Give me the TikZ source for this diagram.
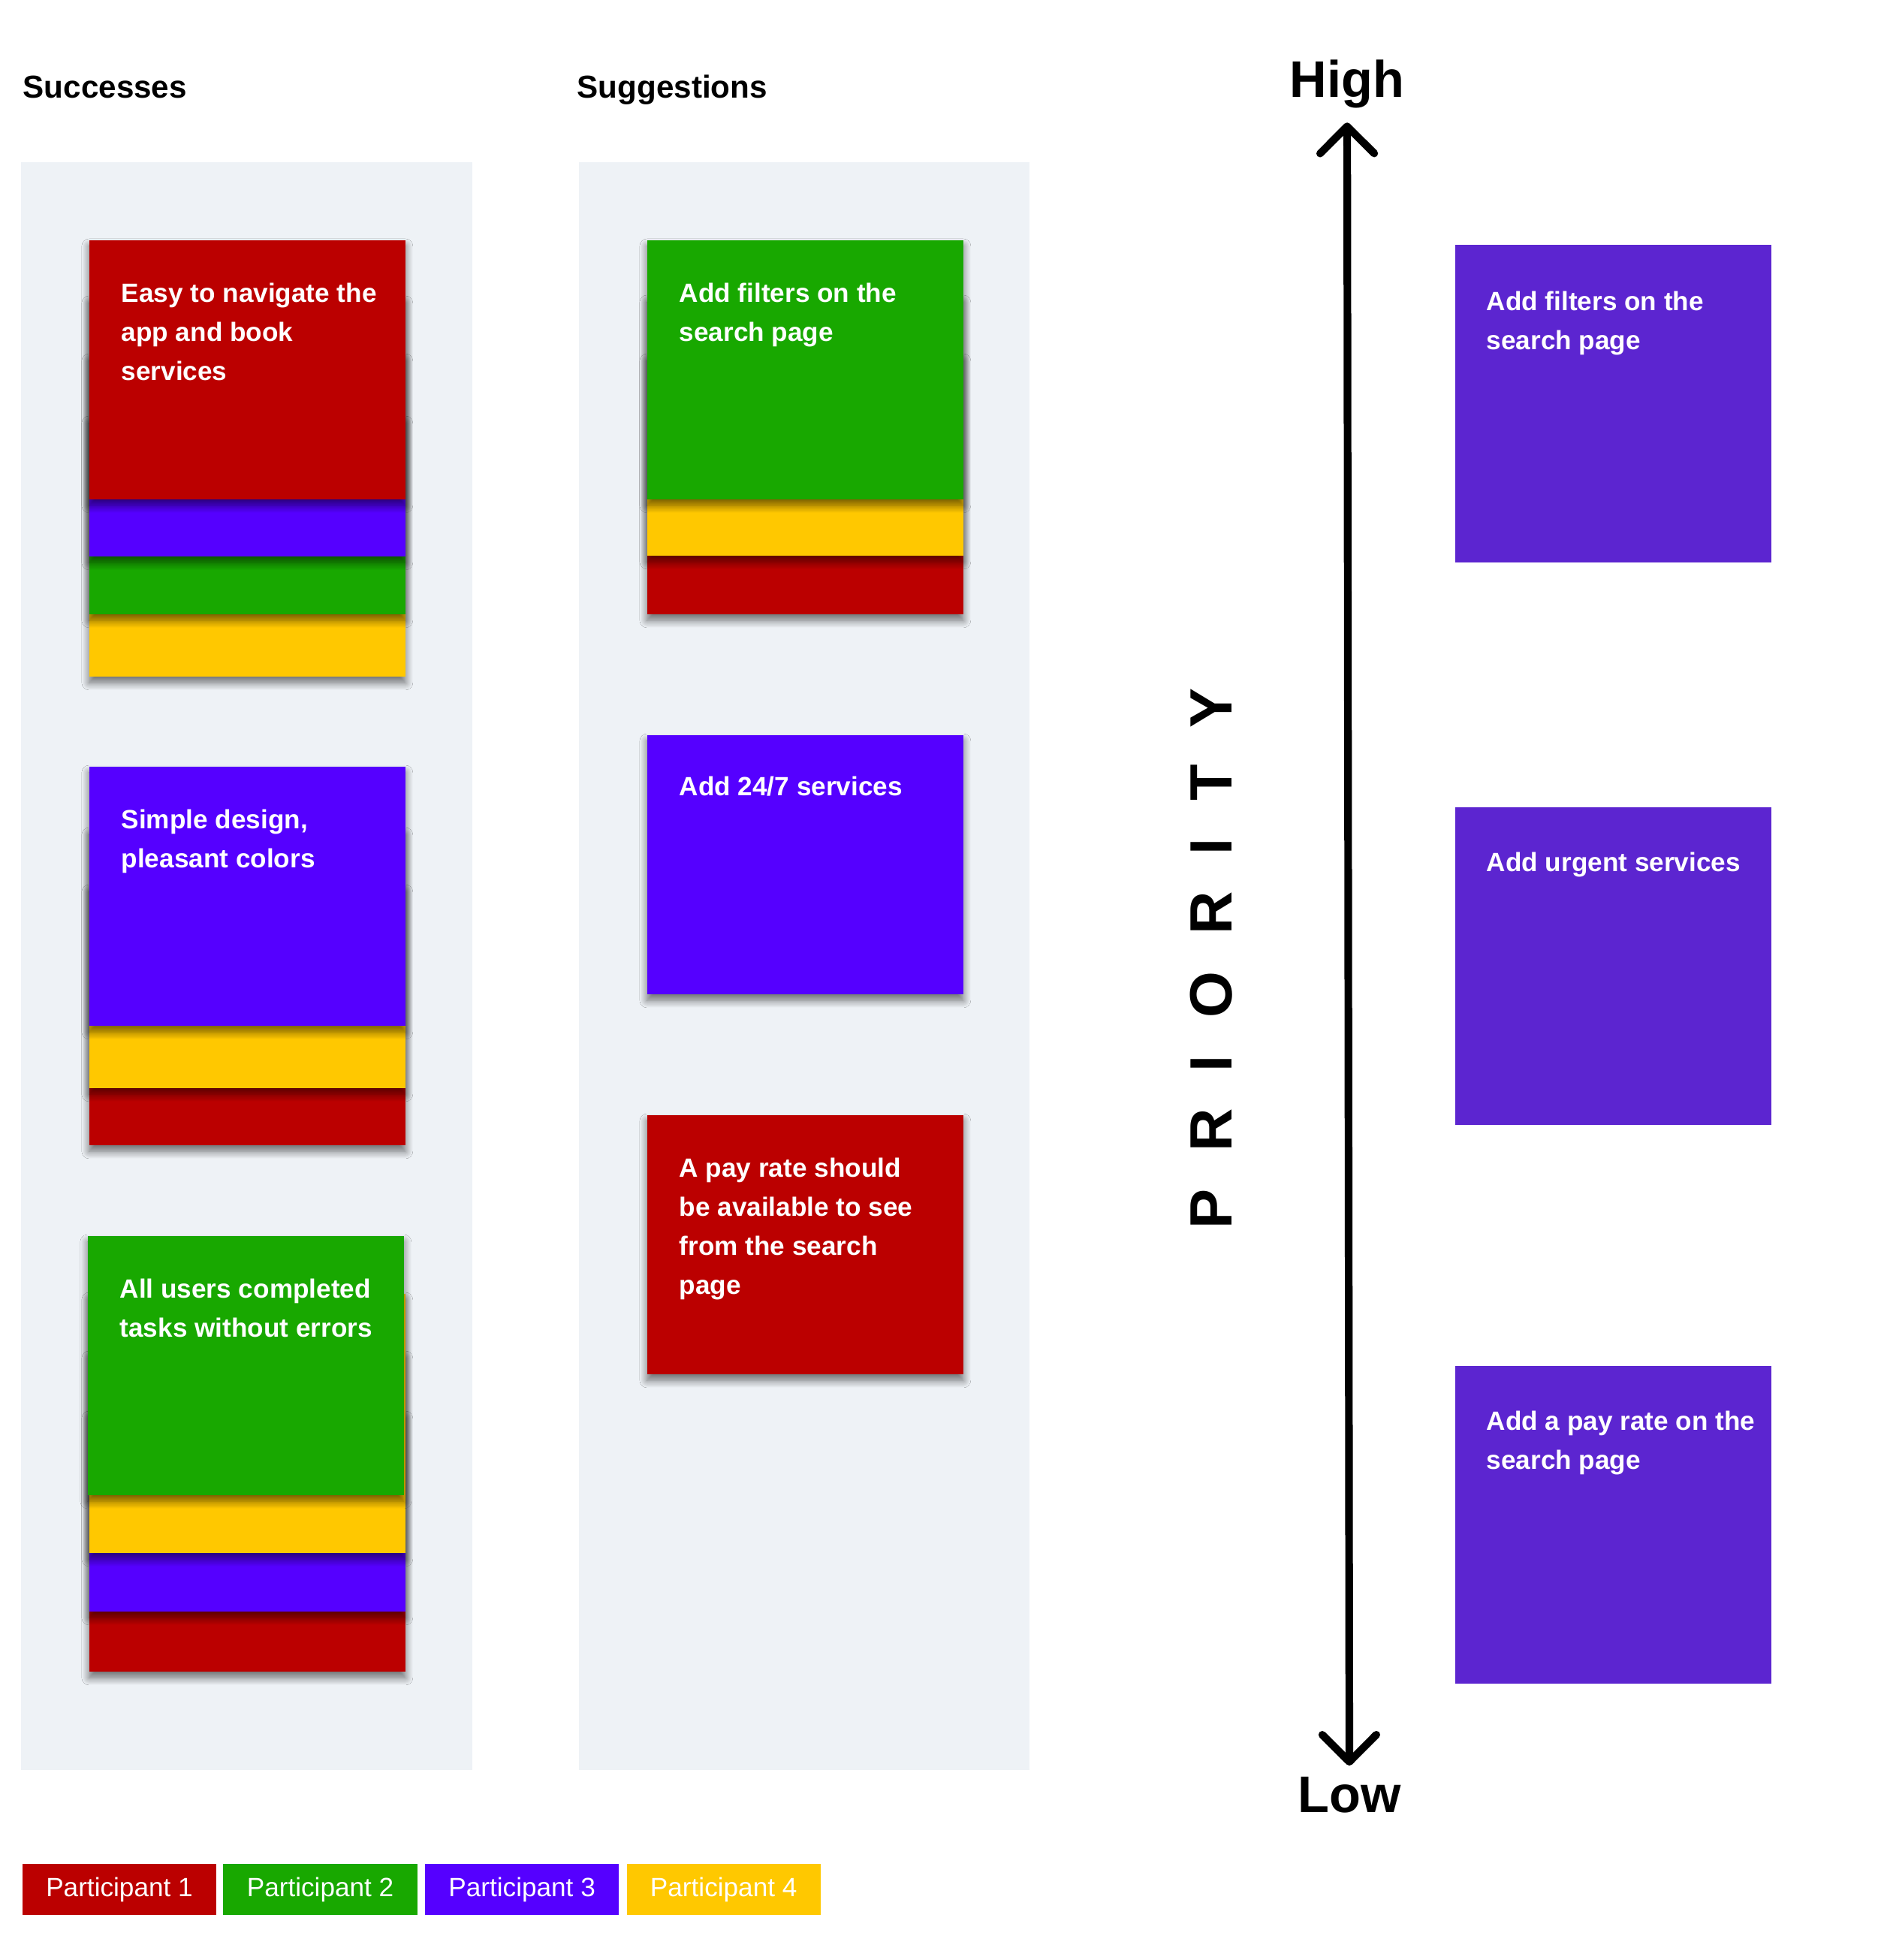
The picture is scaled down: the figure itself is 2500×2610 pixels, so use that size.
\documentclass[tikz,border=0pt]{standalone}
\usepackage{fontspec}
\setmainfont{Liberation Sans}
\usetikzlibrary{arrows.meta, positioning, shadows.blur}

\definecolor{pred}{RGB}{187,0,0}
\definecolor{pgreen}{RGB}{24,168,0}
\definecolor{pblue}{RGB}{85,0,255}
\definecolor{pyellow}{RGB}{255,200,0}
\definecolor{ppurple}{RGB}{92,37,208}
\definecolor{colbg}{RGB}{238,242,246}

\begin{document}
\begin{tikzpicture}[x=0.01cm, y=-0.01cm,
    column/.style={fill=colbg, draw=none},
    note/.style={rectangle, anchor=south west, minimum width=4.21cm, minimum height=3.45cm, inner sep=0pt,
        blur shadow={shadow xshift=0pt, shadow yshift=-2.2pt, shadow blur radius=2.8pt, shadow blur steps=10, shadow opacity=55}},
    prionote/.style={rectangle, anchor=north west, fill=ppurple, minimum width=4.21cm, minimum height=4.23cm, inner sep=0pt},
    notetext/.style={anchor=north west, inner sep=0pt, align=left, text=white, font=\bfseries\fontsize{10}{14.8}\selectfont},
    heading/.style={anchor=base west, inner sep=0pt, font=\bfseries\fontsize{12}{14}\selectfont},
    level/.style={anchor=base, inner sep=0pt, font=\bfseries\fontsize{19.5}{22}\selectfont},
    legend/.style={rectangle, minimum width=2.58cm, minimum height=0.68cm, inner sep=0pt, text=white, font=\fontsize{10}{12}\selectfont},
    prioarrow/.style={{Straight Barb[length=3.6mm, width=7.2mm, round]}-{Straight Barb[length=3.6mm, width=7.2mm, round]}, line width=2.9pt}
]
\useasboundingbox (0,0) rectangle (2500,2610);

% columns
\node[heading] (succ) at (30,131) {Successes};
\node[heading] (sugg) at (768,131) {Suggestions};
\fill[column] (28,216) rectangle (629,2357);
\fill[column] (771,216) rectangle (1371,2357);

% successes
\node[note, fill=pyellow] (s1d) at (118,902) {};
\node[note, fill=pgreen] (s1c) at (118,819) {};
\node[note, fill=pblue] (s1b) at (118,742) {};
\node[note, fill=pred] (s1a) at (118,666) {};
\node[notetext] (s1t) at ([shift={(43,57)}]s1a.north west) {Easy to navigate the\\app and book\\services};

\node[note, fill=pred] (s2c) at (118,1526) {};
\node[note, fill=pyellow] (s2b) at (118,1450) {};
\node[note, fill=pblue] (s2a) at (118,1367) {};
\node[notetext] (s2t) at ([shift={(43,57)}]s2a.north west) {Simple design,\\pleasant colors};

\node[note, fill=pred] (s3d) at (118,2227) {};
\node[note, fill=pblue] (s3c) at (118,2147) {};
\node[note, fill=pyellow] (s3b) at (118,2069) {};
\node[note, fill=pgreen] (s3a) at (116,1992) {};
\node[notetext] (s3t) at ([shift={(43,57)}]s3a.north west) {All users completed\\tasks without errors};

% suggestions
\node[note, fill=pred] (g1c) at (861,819) {};
\node[note, fill=pyellow] (g1b) at (861,741) {};
\node[note, fill=pgreen] (g1a) at (861,666) {};
\node[notetext] (g1t) at ([shift={(43,57)}]g1a.north west) {Add filters on the\\search page};

\node[note, fill=pblue] (g2a) at (861,1325) {};
\node[notetext] (g2t) at ([shift={(43,55)}]g2a.north west) {Add 24/7 services};

\node[note, fill=pred] (g3a) at (861,1831) {};
\node[notetext] (g3t) at ([shift={(43,57)}]g3a.north west) {A pay rate should\\be available to see\\from the search\\page};

% priority scale
\node[level] (high) at (1794,130) {High};
\node[level] (low) at (1797,2413) {Low};
\draw[prioarrow, shorten <=0.18cm, shorten >=0.14cm] (high.south) -- (low.north);
\node[rotate=90, inner sep=0pt, font=\bfseries\fontsize{22.6}{26}\selectfont] (prio) at (1613,1276)
    {P\hspace{14pt}R\hspace{14pt}I\hspace{14pt}O\hspace{14pt}R\hspace{14pt}I\hspace{14pt}T\hspace{14pt}Y};

\node[prionote] (p1) at (1937,325) {};
\node[notetext] (p1t) at ([shift={(42,62)}]p1.north west) {Add filters on the\\search page};
\node[prionote] (p2) at (1937,1074) {};
\node[notetext] (p2t) at ([shift={(42,60)}]p2.north west) {Add urgent services};
\node[prionote] (p3) at (1937,1818) {};
\node[notetext] (p3t) at ([shift={(42,60)}]p3.north west) {Add a pay rate on the\\search page};

% legend
\node[legend, fill=pred] (leg1) at (159,2516) {Participant 1};
\node[legend, fill=pgreen, right=0.08cm of leg1] (leg2) {Participant 2};
\node[legend, fill=pblue, right=0.09cm of leg2] (leg3) {Participant 3};
\node[legend, fill=pyellow, right=0.09cm of leg3] (leg4) {Participant 4};
\end{tikzpicture}
\end{document}
